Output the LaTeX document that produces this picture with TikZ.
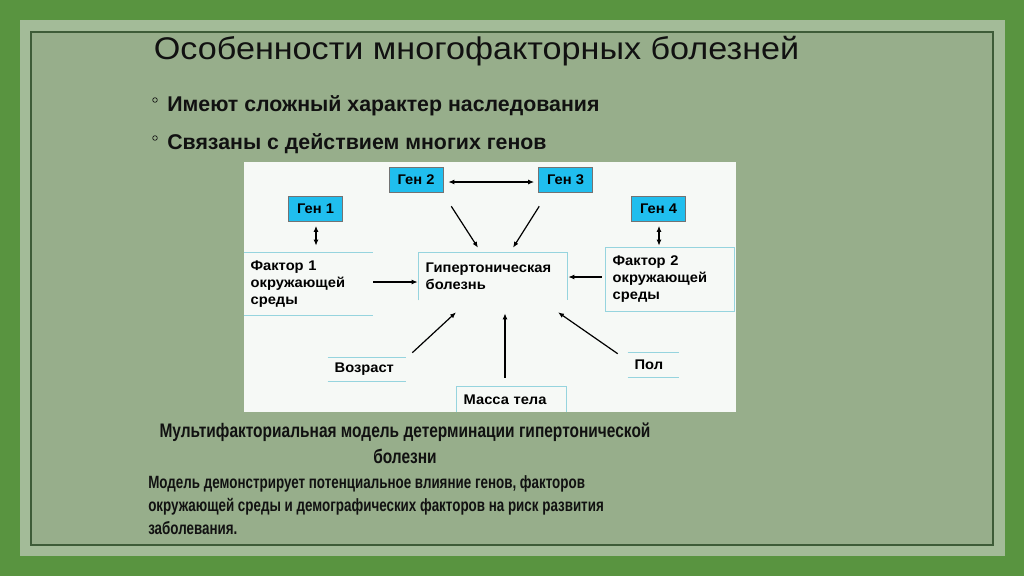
\documentclass[tikz,border=0pt]{standalone}
\usepackage{fontspec}
\setmainfont{Liberation Sans}
\newfontfamily\mfnarrow[FakeStretch=1.09]{Liberation Sans}
\newfontfamily\mfcapfont[FakeStretch=0.79]{Liberation Sans}
\newfontfamily\mfbodyfont[FakeStretch=0.755]{Liberation Sans}
\newfontfamily\mfwide[FakeStretch=1.05]{Liberation Sans}
\usetikzlibrary{arrows.meta,positioning,calc}
\definecolor{mfgreen}{RGB}{89,148,64}
\definecolor{mfstrip}{RGB}{163,187,152}
\definecolor{mfpanel}{RGB}{151,174,139}
\definecolor{mfframe}{RGB}{62,92,56}
\definecolor{mfwhite}{RGB}{246,249,246}
\definecolor{mfcyan}{RGB}{32,190,238}
\definecolor{mfline}{RGB}{150,212,222}
\definecolor{mfink}{RGB}{17,17,17}

\begin{document}
\begin{tikzpicture}[x=0.75pt,y=-0.75pt,
  gen/.style={fill=mfcyan, draw=black!55, line width=0.4pt, minimum width=40.5pt,
    minimum height=18.75pt, inner sep=0pt, font=\mfwide\bfseries\fontsize{10.5}{12}\selectfont},
  fbox/.style={align=left, inner xsep=5pt, inner ysep=0pt,
    font=\mfwide\bfseries\fontsize{10.5}{12.75}\selectfont},
  frame/.style={mfline, line width=0.8pt},
  arr/.style={line width=0.9pt, -{Latex[length=4.5pt,width=3.6pt]}},
  darr/.style={line width=0.9pt, {Latex[length=4.5pt,width=3.6pt]}-{Latex[length=4.5pt,width=3.6pt]}},
  bullettext/.style={text=mfink, inner sep=0pt, font=\bfseries\fontsize{16}{18}\selectfont},
  captext/.style={text=mfink, inner sep=0pt, font=\mfcapfont\bfseries\fontsize{14.7}{17}\selectfont},
  bodytext/.style={text=mfink, inner sep=0pt, font=\mfbodyfont\bfseries\fontsize{13.3}{15}\selectfont},
  dot/.style={draw=mfink, circle, inner sep=0pt, minimum size=3.5pt, line width=0.5pt}]
  \useasboundingbox (0,0) rectangle (1024,576);
  \fill[mfgreen] (0,0) rectangle (1024,576);
  \fill[mfstrip] (20,20) rectangle (1005,556);
  \filldraw[fill=mfpanel, draw=mfframe, line width=0.8pt] (31,32) rectangle (993,545);

  \node[anchor=base, text=mfink, inner sep=0pt,
    font=\mfnarrow\fontsize{23.5}{26}\selectfont] (title) at (476.5,59)
    {Особенности многофакторных болезней};
  \node[dot] (o1) at (155,100) {};
  \node[bullettext, anchor=base west] (b1) at (167,111) {Имеют сложный характер наследования};
  \node[dot] (o2) at (155,138) {};
  \node[bullettext, anchor=base west] (b2) at (167,149) {Связаны с действием многих генов};

  \fill[mfwhite] (244,162) rectangle (736,412);

  \node[gen] (gen2) at (416,179.5) {Ген 2};
  \node[gen] (gen3) at (565.5,179.5) {Ген 3};
  \node[gen] (gen1) at (315.5,209) {Ген 1};
  \node[gen] (gen4) at (658.5,209) {Ген 4};

  \node[fbox, minimum height=46.5pt, text width=86.75pt] (f1) at (308.5,284)
    {Фактор 1\\окружающей\\среды};
  \node[fbox, minimum height=35.25pt, text width=101pt] (gb) at (493,276.5)
    {Гипертоническая\\болезнь};
  \node[fbox, minimum height=47.25pt, text width=86pt] (f2) at (670,279.5)
    {Фактор 2\\окружающей\\среды};
  \node[fbox, minimum height=17.25pt, text width=48.5pt] (age) at (367,369.5) {Возраст};
  \node[fbox, minimum height=18.75pt, text width=71.75pt] (mass) at (511.5,399.5) {Масса тела};
  \node[fbox, minimum height=18pt, text width=28.25pt] (sex) at (653.5,365) {Пол};

  \draw[frame] (f1.north west) -- (f1.north east) (f1.south west) -- (f1.south east);
  \draw[frame] (gb.south west) -- (gb.north west) -- (gb.north east) -- (gb.south east);
  \draw[frame] (f2.south west) rectangle (f2.north east);
  \draw[frame] (age.north west) -- (age.north east) (age.south west) -- (age.south east);
  \draw[frame] (mass.south west) -- (mass.north west) -- (mass.north east) -- (mass.south east);
  \draw[frame] (sex.north west) -- (sex.north east) (sex.south west) -- (sex.south east);

  \draw[darr] ($(gen2.east)+(5,2.5)$) -- ($(gen3.west)+(-4,2.5)$);
  \draw[arr] ($(gen2.south east)+(8,14)$) -- ($(gb.north)+(-15,-5)$);
  \draw[arr] ($(gen3.south west)+(1,14)$) -- ($(gb.north)+(20,-5)$);
  \draw[darr] ($(gen1.south)+(0.5,4)$) -- ($(f1.north)+(7.5,-7)$);
  \draw[darr] ($(gen4.south)+(0.5,4)$) -- ($(f2.north)+(-11,-2)$);
  \draw[arr] ($(f1.east)+(0,-2)$) -- ($(gb.west)+(-1,5.5)$);
  \draw[arr] ($(f2.west)+(-4,-2.5)$) -- ($(gb.east)+(1,0.5)$);
  \draw[arr] ($(age.north east)+(6,-5)$) -- ($(gb.south)+(-37,12)$);
  \draw[arr] ($(mass.north)+(-6.5,-9)$) -- ($(gb.south)+(12,13)$);
  \draw[arr] ($(sex.north west)+(-10,1)$) -- ($(gb.south)+(65,12)$);

  \node[captext, anchor=base] (cap1) at (405,437)
    {Мультифакториальная модель детерминации гипертонической};
  \node[captext, anchor=base] (cap2) at (405,463) {болезни};
  \node[bodytext, anchor=base west] (body1) at (148,488)
    {Модель демонстрирует потенциальное влияние генов, факторов};
  \node[bodytext, anchor=base west] (body2) at (148,511)
    {окружающей среды и демографических факторов на риск развития};
  \node[bodytext, anchor=base west] (body3) at (148,534) {заболевания.};
\end{tikzpicture}
\end{document}
